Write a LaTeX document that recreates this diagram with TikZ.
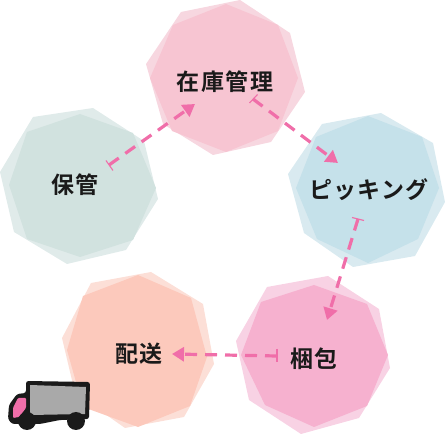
\documentclass[tikz,border=0pt]{standalone}
\usepackage{fontspec}
\newfontfamily\jpfont[LetterSpace=6]{Noto Sans CJK JP Bold}
\usetikzlibrary{arrows.meta}
\definecolor{ink}{HTML}{1A1A1A}
\definecolor{arrowpink}{HTML}{F06EA9}
\tikzset{
  label text/.style={font=\jpfont\fontsize{23}{23}\selectfont, text=ink, inner sep=0pt},
  flow/.style={draw=arrowpink, line width=3.2pt, dash pattern=on 12pt off 8pt,
    -{Triangle[length=12pt,width=14pt]}},
  tbar/.style={draw=arrowpink, line width=1.1pt},
}
\begin{document}
\begin{tikzpicture}[x=1pt,y=-1pt]
\useasboundingbox (0,0) rectangle (445,435);
% top pink
\fill[fill={rgb,255:red,247;green,215;blue,224}] (181,12)--(240,0)--(290,33)--(305,92)--(271,142)--(213,155)--(163,124)--(146,64)--cycle;
\fill[fill={rgb,255:red,247;green,197;blue,210}] (173,25)--(226,4)--(278,25)--(298,78)--(278,131)--(226,152)--(172,131)--(150,78)--cycle;
% green
\fill[fill={rgb,255:red,224;green,235;blue,234}] (33,117)--(93,108)--(144,141)--(158,199)--(126,250)--(67,264)--(14,232)--(0,172)--cycle;
\fill[fill={rgb,255:red,209;green,226;blue,223}] (27,132)--(80,114)--(133,133)--(156,188)--(133,240)--(80,257)--(27,239)--(9,185)--cycle;
% blue
\fill[fill={rgb,255:red,217;green,234;blue,240}] (322,124)--(381,113)--(433,143)--(445,202)--(415,256)--(353,267)--(304,233)--(288,174)--cycle;
\fill[fill={rgb,255:red,197;green,225;blue,234}] (316,137)--(368,116)--(422,137)--(439,188)--(418,239)--(368,263)--(317,239)--(296,188)--cycle;
% salmon
\fill[fill={rgb,255:red,252;green,223;blue,215}] (91,283)--(151,272)--(203,304)--(214,364)--(184,417)--(125,428)--(75,393)--(62,338)--cycle;
\fill[fill={rgb,255:red,252;green,201;blue,188}] (83,296)--(138,275)--(191,298)--(207,357)--(190,406)--(138,427)--(83,407)--(67,350)--cycle;
% bottom pink
\fill[fill={rgb,255:red,248;green,210;blue,228}] (267,287)--(328,276)--(379,309)--(390,368)--(359,418)--(301,434)--(249,400)--(236,341)--cycle;
\fill[fill={rgb,255:red,246;green,177;blue,207}] (261,302)--(314,285)--(367,304)--(388,355)--(367,406)--(314,427)--(265,405)--(241,355)--cycle;
% labels
\node[label text] (zaiko) at (225,82) {在庫管理};
\node[label text] (hokan) at (75,185) {保管};
\node[label text] (pick) at (369,190) {ピッキング};
\node[label text] (konpo) at (314,359) {梱包};
\node[label text] (haiso) at (139,354) {配送};
% connector ends
\coordinate (a1) at (109,165); \coordinate (a2) at (195,104);
\coordinate (b1) at (253,99);  \coordinate (b2) at (338,163);
\coordinate (c1) at (358,219); \coordinate (c2) at (327,320);
\coordinate (d1) at (277,356); \coordinate (d2) at (172,354);
\draw[flow] (a1)--(a2);
\draw[flow] (b1)--(b2);
\draw[flow] (c1)--(c2);
\draw[flow] (d1)--(d2);
\draw[tbar] (106,160.5)--(113,170.5);
\draw[tbar] (249.5,103)--(257.5,94.5);
\draw[tbar] (352,217.5)--(364,220.5);
\draw[tbar] (277,349)--(277,362);
% truck
\fill[fill=ink, rounded corners=2.5pt] (26,381)--(90,382)--(89,419)--(60,420)--(40,424)--(12,424)--(8,419)--(9,405)--(17,394)--(26,393)--cycle;
\fill[fill={rgb,255:red,169;green,169;blue,169}] (30,385)--(86,387)--(85,414)--(30,415)--cycle;
\fill[fill=arrowpink, rounded corners=1pt] (13,408)--(18,398)--(26,398)--(26,408)--(19,417)--(13,418)--cycle;
\fill[fill=ink] (27,421) circle (9);
\fill[fill=ink] (76,421) circle (9);
\end{tikzpicture}
\end{document}
